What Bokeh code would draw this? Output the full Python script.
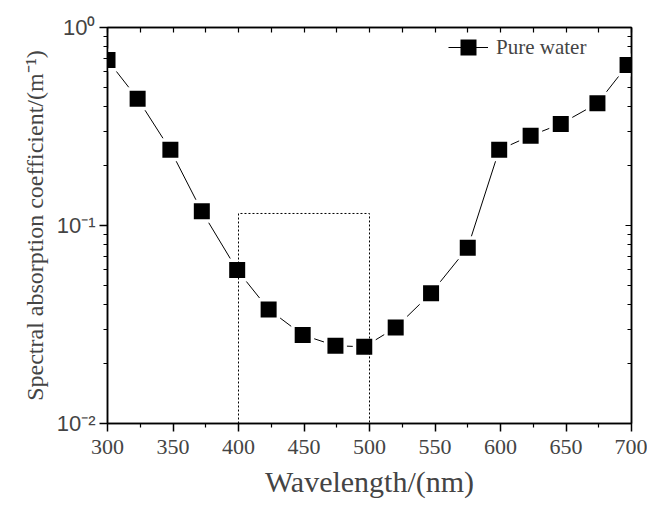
from bokeh.plotting import figure
from bokeh.models import (LinearAxis, LogAxis, FixedTicker, CustomJSTickFormatter,
                          Legend, LegendItem)
from bokeh.embed import file_html
from bokeh.resources import INLINE

# Pure water spectral absorption
wavelength = [300, 323, 348, 372, 399, 423, 449, 474, 496, 520, 547, 575, 599, 623, 646, 674, 697]
absorption = [0.685, 0.437, 0.241, 0.118, 0.0596, 0.0377, 0.0280, 0.0247, 0.0244,
              0.0305, 0.0455, 0.0773, 0.241, 0.284, 0.326, 0.414, 0.647]
series_name = "Pure water"

# dotted window marking the 400-500 nm band
box_x = [400, 400, 500, 500]
box_y = [0.01, 0.115, 0.115, 0.01]

x_ticks = [300, 350, 400, 450, 500, 550, 600, 650, 700]
x_minor = [325, 375, 425, 475, 525, 575, 625, 675]
y_ticks = [0.01, 0.1, 1.0]
y_tick_labels = ["10\u207b\u00b2", "10\u207b\u00b9", "10\u2070"]
y_minor = [0.02, 0.03, 0.04, 0.05, 0.06, 0.07, 0.08, 0.09,
           0.2, 0.3, 0.4, 0.5, 0.6, 0.7, 0.8, 0.9]

SERIF = "Liberation Serif"
SANS = "Liberation Sans"

p = figure(width=647, height=505, y_axis_type="log",
           x_range=(300, 700), y_range=(0.01, 1.0),
           output_backend="svg", toolbar_location=None,
           min_border_left=107, min_border_right=16,
           min_border_top=27, min_border_bottom=82)
p.grid.visible = False
p.outline_line_color = "black"
p.outline_line_width = 1.5
p.background_fill_color = "white"
p.border_fill_color = "white"

yfmt = CustomJSTickFormatter(args=dict(vals=y_ticks, labs=y_tick_labels), code="""
    let best = 0;
    for (let i = 0; i < vals.length; i++) {
        if (Math.abs(Math.log10(vals[i]) - Math.log10(tick)) <
            Math.abs(Math.log10(vals[best]) - Math.log10(tick))) best = i;
    }
    return labs[best];
""")
blank = CustomJSTickFormatter(code="return '';")

xa = p.xaxis[0]
xa.ticker = FixedTicker(ticks=x_ticks, minor_ticks=x_minor)
xa.axis_label = "Wavelength/(nm)"
xa.axis_label_text_font = SERIF
xa.axis_label_text_font_style = "normal"
xa.axis_label_text_font_size = "30px"
xa.axis_label_standoff = 8
xa.major_label_text_font = SERIF
xa.major_label_text_font_size = "22px"
xa.major_label_standoff = 8
xa.major_tick_out = 8
xa.major_tick_in = 0
xa.minor_tick_out = 4
xa.minor_tick_in = 0
xa.axis_line_width = 1.5
xa.major_tick_line_width = 1.5
xa.minor_tick_line_width = 1.2

ya = p.yaxis[0]
ya.ticker = FixedTicker(ticks=y_ticks, minor_ticks=y_minor)
ya.formatter = yfmt
ya.axis_label = "Spectral absorption coefficient/(m\u207b\u00b9)"
ya.axis_label_text_font = SERIF
ya.axis_label_text_font_style = "normal"
ya.axis_label_text_font_size = "24px"
ya.axis_label_standoff = 6
ya.major_label_text_font = SANS
ya.major_label_text_font_size = "22px"
ya.major_label_standoff = 4
ya.major_tick_out = 8
ya.major_tick_in = 0
ya.minor_tick_out = 4
ya.minor_tick_in = 0
ya.axis_line_width = 1.5
ya.major_tick_line_width = 1.5
ya.minor_tick_line_width = 1.2

# frame axes on top and right with inward ticks only
top = LinearAxis(ticker=FixedTicker(ticks=x_ticks, minor_ticks=x_minor), formatter=blank,
                 major_label_standoff=0, major_tick_in=5, major_tick_out=0,
                 minor_tick_in=5, minor_tick_out=0, axis_line_width=1.5,
                 major_tick_line_width=1.2, minor_tick_line_width=1.2)
right = LogAxis(ticker=FixedTicker(ticks=y_ticks, minor_ticks=y_minor), formatter=blank,
                major_label_standoff=0, major_tick_in=6, major_tick_out=0,
                minor_tick_in=4, minor_tick_out=0, axis_line_width=1.5,
                major_tick_line_width=1.2, minor_tick_line_width=1.2)
p.add_layout(top, "above")
p.add_layout(right, "right")

line_r = p.line(wavelength, absorption, line_color="black", line_width=1)
# white halo so the connecting line stops short of each marker
p.scatter(wavelength, absorption, marker="square", size=23,
          fill_color="white", line_color=None)
p.line(box_x, box_y, line_color="black", line_width=1, line_dash="2 2")
mark_r = p.scatter(wavelength, absorption, marker="square", size=16,
                   fill_color="black", line_color=None)

legend = Legend(items=[LegendItem(label=series_name, renderers=[line_r, mark_r])],
                location=(341, 356), glyph_width=40, glyph_height=40,
                label_text_font=SERIF, label_text_font_size="21px",
                label_standoff=8, border_line_color=None,
                background_fill_alpha=0, padding=0, margin=0)
p.add_layout(legend)

open("out.html", "w").write(file_html(p, INLINE))
